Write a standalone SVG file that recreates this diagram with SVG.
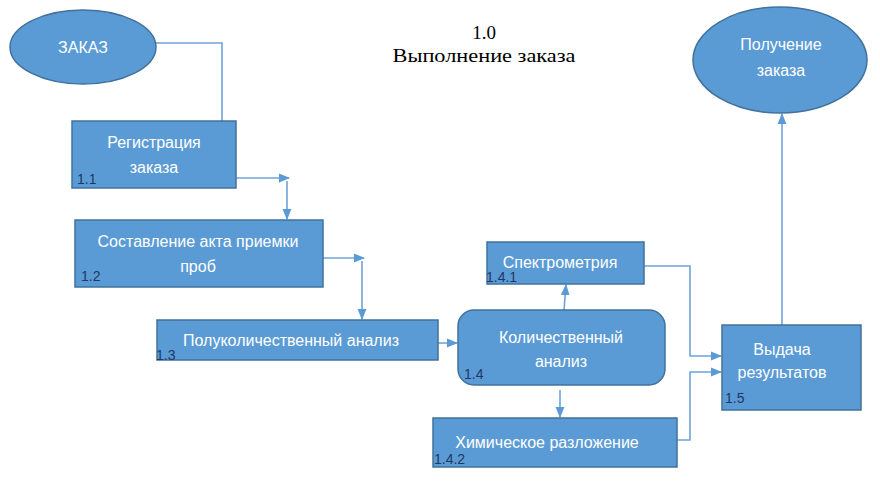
<svg xmlns="http://www.w3.org/2000/svg" width="880" height="495" viewBox="0 0 880 495">
<defs>
<marker id="ah" viewBox="0 0 10 10" refX="9" refY="5" markerWidth="7" markerHeight="7" orient="auto">
<path d="M0,1 L10,5 L0,9 z" fill="#5B9BD5"/>
</marker>
<style>
.n{fill:#5B9BD5;stroke:#41719C;stroke-width:1.5}
.t{font-family:"Liberation Sans",Arial,sans-serif;font-size:16px;fill:#FFFFFF;text-anchor:middle}
.num{font-family:"Liberation Sans",Arial,sans-serif;font-size:14px;fill:#1F3864}
.c{fill:none;stroke:#6FA3D8;stroke-width:1.6}
.a{marker-end:url(#ah)}
.title{font-family:"Liberation Serif","Times New Roman",serif;font-size:19px;fill:#000;text-anchor:middle}
</style>
</defs>
<rect width="880" height="495" fill="#FFFFFF"/>
<text class="title" x="484" y="39">1.0</text>
<text class="title" x="484" y="62" textLength="183" lengthAdjust="spacingAndGlyphs">Выполнение заказа</text>

<g id="connectors">
<polyline class="c" points="155,43 222,43 222,121"/>
<polyline class="c a" points="236,178 289,178"/>
<polyline class="c a" points="287,181 287,219"/>
<polyline class="c a" points="323,258 364,258"/>
<polyline class="c a" points="362,261 362,319"/>
<polyline class="c a" points="438,343 457,343"/>
<polyline class="c a" points="564,310 566,285"/>
<polyline class="c a" points="560,390 560,417"/>
<polyline class="c a" points="644,266 690,266 690,356 721,356"/>
<polyline class="c a" points="677,440 690,440 690,372 721,372"/>
<polyline class="c a" points="782,325 782,114"/>
</g>

<g id="n0">
<ellipse class="n" cx="83" cy="47" rx="73" ry="37"/>
<text class="t" x="83" y="53" font-size="15">ЗАКАЗ</text>
</g>
<g id="n1_1">
<rect class="n" x="72" y="121" width="164" height="67"/>
<text class="t" x="154" y="148">Регистрация</text>
<text class="t" x="154" y="173">заказа</text>
<text class="num" x="77" y="184">1.1</text>
</g>
<g id="n1_2">
<rect class="n" x="75" y="220" width="248" height="67"/>
<text class="t" x="198" y="247">Составление акта приемки</text>
<text class="t" x="198" y="272">проб</text>
<text class="num" x="81" y="281">1.2</text>
</g>
<g id="n1_3">
<rect class="n" x="157" y="320" width="281" height="40"/>
<text class="t" x="291" y="346">Полуколичественный анализ</text>
<text class="num" x="156" y="360">1.3</text>
</g>
<g id="n1_4">
<rect class="n" x="458" y="310" width="207" height="75" rx="16" ry="16"/>
<text class="t" x="561" y="343">Количественный</text>
<text class="t" x="561" y="367">анализ</text>
<text class="num" x="464" y="379">1.4</text>
</g>
<g id="n1_4_1">
<rect class="n" x="487" y="242" width="157" height="42"/>
<text class="t" x="560" y="268">Спектрометрия</text>
<text class="num" x="486" y="282">1.4.1</text>
</g>
<g id="n1_4_2">
<rect class="n" x="433" y="418" width="244" height="49"/>
<text class="t" x="547" y="448">Химическое разложение</text>
<text class="num" x="434" y="464">1.4.2</text>
</g>
<g id="n1_5">
<rect class="n" x="722" y="325" width="139" height="85"/>
<text class="t" x="782" y="355">Выдача</text>
<text class="t" x="782" y="378">результатов</text>
<text class="num" x="725" y="403">1.5</text>
</g>
<g id="n_end">
<ellipse class="n" cx="780" cy="60" rx="87" ry="53"/>
<text class="t" x="781" y="50" font-size="15">Получение</text>
<text class="t" x="781" y="76" font-size="15">заказа</text>
</g>
</svg>
